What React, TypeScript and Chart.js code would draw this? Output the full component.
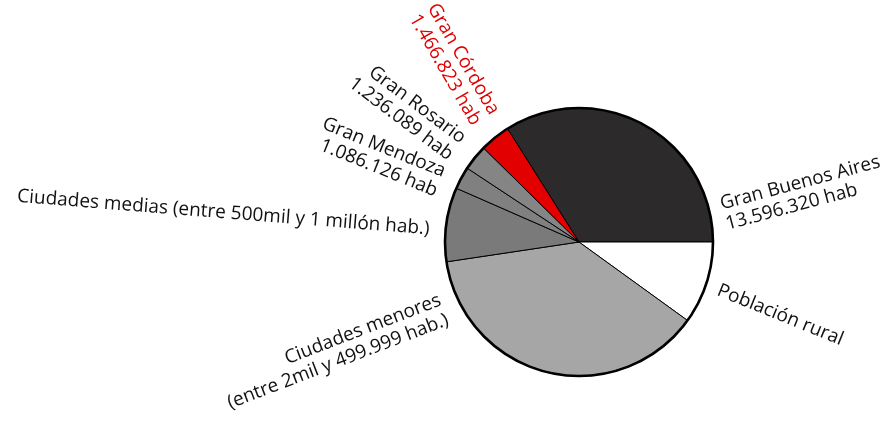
import React, { useEffect, useRef } from "react";
import { Chart, registerables } from "chart.js";

Chart.register(...registerables);

// ---- data (clockwise from the 3 o'clock position, going counter-clockwise for Buenos Aires) ----
const categories = [
  "Gran Buenos Aires",
  "Población rural",
  "Ciudades menores",
  "Ciudades medias",
  "Gran Mendoza",
  "Gran Rosario",
  "Gran Córdoba",
];
const population = [13596320, 3990000, 15080000, 3580000, 1086126, 1236089, 1466823];
const labelLines = [
  ["Gran Buenos Aires", "13.596.320 hab"],
  ["Población rural"],
  ["Ciudades menores", "(entre 2mil y 499.999 hab.)"],
  ["Ciudades medias (entre 500mil y 1 millón hab.)"],
  ["Gran Mendoza", "1.086.126 hab"],
  ["Gran Rosario", "1.236.089 hab"],
  ["Gran Córdoba", "1.466.823 hab"],
];

// ---- styles ----
const sliceColors = ["#2c2a2b", "#ffffff", "#a6a6a6", "#7a7a7a", "#808080", "#858585", "#e30000"];
const labelColors = ["#111111", "#111111", "#111111", "#111111", "#111111", "#111111", "#e00000"];
// label placement: polar angle (deg, canvas), distance beyond the pie edge, text rotation, alignment
const labelLayout = [
  { angle: -10.8, gap: 13, rot: -15, align: "left" },
  { angle: 19, gap: 13, rot: 22, align: "left" },
  { angle: 153.4, gap: 17, rot: -21, align: "right" },
  { angle: -175, gap: 16, rot: 4.5, align: "right" },
  { angle: -156.5, gap: 17, rot: 22, align: "right" },
  { angle: -142.4, gap: 20, rot: 37, align: "right" },
  { angle: -127.2, gap: 21, rot: 60, align: "right" },
];
const FONT = "19px 'Open Sans'";
const LINE_HEIGHT = 21;

const labelsPlugin = {
  id: "radialLabels",
  afterDatasetsDraw(chart: any) {
    const ctx = chart.ctx;
    const arc = chart.getDatasetMeta(0).data[0];
    if (!arc) return;
    const cx = arc.x;
    const cy = arc.y;
    const R = arc.outerRadius;
    // thick outer rim
    ctx.save();
    ctx.beginPath();
    ctx.arc(cx, cy, R, 0, Math.PI * 2);
    ctx.lineWidth = 2.6;
    ctx.strokeStyle = "#000";
    ctx.stroke();
    ctx.restore();

    labelLines.forEach((lines, i) => {
      const L = labelLayout[i];
      const a = (L.angle * Math.PI) / 180;
      const d = R + L.gap;
      const x = cx + d * Math.cos(a);
      const y = cy + d * Math.sin(a);
      ctx.save();
      ctx.translate(x, y);
      ctx.rotate((L.rot * Math.PI) / 180);
      ctx.font = FONT;
      ctx.fillStyle = labelColors[i];
      ctx.textAlign = L.align;
      ctx.textBaseline = "middle";
      const n = lines.length;
      lines.forEach((t, j) => {
        ctx.fillText(t, 0, (j - (n - 1) / 2) * LINE_HEIGHT);
      });
      ctx.restore();
    });
  },
};

export default function App() {
  const ref = useRef<HTMLCanvasElement>(null);
  useEffect(() => {
    if (!ref.current) return;
    const total = population.reduce((s, v) => s + v, 0);
    const rotation = 90 - (360 * population[0]) / total;
    const chart = new Chart(ref.current, {
      type: "pie",
      data: {
        labels: categories,
        datasets: [
          {
            data: population,
            backgroundColor: sliceColors,
            borderColor: "#000000",
            borderWidth: 1,
          },
        ],
      },
      options: {
        responsive: false,
        animation: false,
        rotation,
        radius: 134,
        layout: { padding: { left: 435, right: 160, top: 100, bottom: 39 } },
        plugins: {
          legend: { display: false },
          tooltip: { enabled: false },
        },
      },
      plugins: [labelsPlugin],
    });
    return () => chart.destroy();
  }, []);
  return (
    <div style={{ position: "absolute", left: 0, top: 0, width: 883, height: 423, background: "#fff" }}>
      <canvas ref={ref} width={883} height={423} />
    </div>
  );
}
